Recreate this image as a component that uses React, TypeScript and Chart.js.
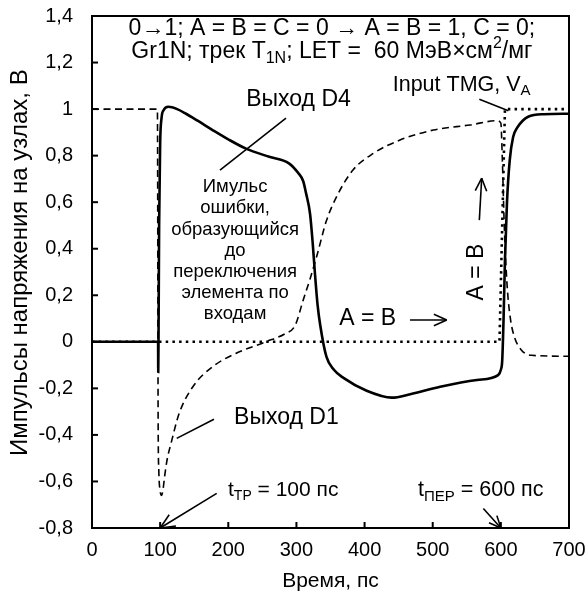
import { useEffect, useRef } from "react";
import { Chart, registerables } from "chart.js";

Chart.register(...registerables);

const FONT = "'Liberation Sans', Arial, sans-serif";

// Output D4 (solid)
const d4Time = [0, 97, 97.2, 97.6, 98.5, 100, 102, 105, 112, 125, 138, 155, 177, 200, 226, 260, 289, 303, 310, 314, 320, 324, 327, 331, 335, 344, 355, 369, 403, 440, 467, 511, 565, 596, 600, 602, 604, 606, 609, 613, 618, 624, 632, 640, 663, 700];
const d4Volt = [0, 0, -0.13, 0, 0.5, 0.85, 0.96, 0.995, 1.01, 1.0, 0.98, 0.95, 0.91, 0.87, 0.83, 0.795, 0.767, 0.724, 0.69, 0.64, 0.55, 0.42, 0.3, 0.16, 0.07, -0.064, -0.12, -0.155, -0.21, -0.24, -0.225, -0.193, -0.164, -0.143, -0.12, -0.08, 0.1, 0.35, 0.6, 0.78, 0.88, 0.92, 0.95, 0.967, 0.978, 0.98];

// Output D1 (dashed)
const d1Time = [0, 96, 96.5, 97, 98, 100, 102, 104, 106.5, 110, 116, 128, 148, 177, 211, 255, 284, 298, 310, 320, 330, 344, 359, 383, 413, 452, 501, 555, 594, 600, 602, 605, 609, 614, 620, 630, 645, 700];
const d1Volt = [1, 1, 0.5, -0.3, -0.55, -0.64, -0.66, -0.64, -0.58, -0.51, -0.436, -0.307, -0.193, -0.107, -0.05, 0, 0.036, 0.07, 0.18, 0.27, 0.37, 0.52, 0.624, 0.738, 0.81, 0.867, 0.91, 0.932, 0.95, 0.94, 0.8, 0.5, 0.25, 0.1, 0.02, -0.035, -0.058, -0.062];

// Input TMG, V_A (dotted)
const inTime = [0, 598, 606, 700];
const inVolt = [0, 0, 1, 1];

const Y_TITLE = "Импульсы напряжения на узлах, В";

const toPoints = (xs: number[], ys: number[]) => xs.map((x, i) => ({ x, y: ys[i] }));

type Run = { t: string; s?: "sub" | "sup" };

function drawRuns(ctx: CanvasRenderingContext2D, runs: Run[], x: number, y: number, size: number, align: "left" | "center" = "left") {
  const small = Math.round(size * 0.68);
  const widths = runs.map((r) => {
    ctx.font = `${r.s ? small : size}px ${FONT}`;
    return ctx.measureText(r.t).width;
  });
  const total = widths.reduce((a, b) => a + b, 0);
  let cx = align === "center" ? x - total / 2 : x;
  ctx.textAlign = "left";
  ctx.textBaseline = "middle";
  runs.forEach((r, i) => {
    ctx.font = `${r.s ? small : size}px ${FONT}`;
    const dy = r.s === "sub" ? size * 0.3 : r.s === "sup" ? -size * 0.33 : 0;
    ctx.fillText(r.t, cx, y + dy);
    cx += widths[i];
  });
}

function seg(ctx: CanvasRenderingContext2D, x1: number, y1: number, x2: number, y2: number) {
  ctx.beginPath();
  ctx.moveTo(x1, y1);
  ctx.lineTo(x2, y2);
  ctx.stroke();
}

function arrow(ctx: CanvasRenderingContext2D, x1: number, y1: number, x2: number, y2: number, head = 13) {
  seg(ctx, x1, y1, x2, y2);
  const a = Math.atan2(y2 - y1, x2 - x1);
  const spread = 0.42;
  seg(ctx, x2, y2, x2 - head * Math.cos(a - spread), y2 - head * Math.sin(a - spread));
  seg(ctx, x2, y2, x2 - head * Math.cos(a + spread), y2 - head * Math.sin(a + spread));
}

const notesPlugin = {
  id: "notes",
  afterDraw(chart: any) {
    const { ctx, chartArea: ca } = chart;
    const xs = chart.scales.x;
    const ys = chart.scales.y;
    const px = (v: number) => xs.getPixelForValue(v);
    const py = (v: number) => ys.getPixelForValue(v);
    ctx.save();
    ctx.strokeStyle = "#000";
    ctx.fillStyle = "#000";
    ctx.lineWidth = 2;
    ctx.setLineDash([]);
    ctx.strokeRect(ca.left, ca.top, ca.right - ca.left, ca.bottom - ca.top);
    // inside tick marks
    ys.ticks.forEach((t: any) => seg(ctx, ca.left, py(t.value), ca.left + 6, py(t.value)));
    xs.ticks.forEach((t: any) => seg(ctx, px(t.value), ca.bottom, px(t.value), ca.bottom - 6));

    // y axis title
    ctx.save();
    ctx.translate(20, py(0.34));
    ctx.rotate(-Math.PI / 2);
    drawRuns(ctx, [{ t: Y_TITLE }], 0, 0, 24, "center");
    ctx.restore();

    // header
    drawRuns(ctx, [{ t: "0→1; A = B = C = 0 → A = B = 1, C = 0;" }], px(352), py(1.345), 23, "center");
    drawRuns(ctx, [{ t: "Gr1N; трек T" }, { t: "1N", s: "sub" }, { t: "; LET =  60 МэВ×см" }, { t: "2", s: "sup" }, { t: "/мг" }], px(352), py(1.248), 23, "center");

    ctx.lineWidth = 1.6;
    // Output D4 label
    drawRuns(ctx, [{ t: "Выход D4" }], px(303), py(1.039), 23, "center");
    seg(ctx, px(284.7), py(0.961), px(187.8), py(0.738));

    // error pulse note
    const lines = ["Имульс", "ошибки,", "образующийся", "до", "переключения", "элемента по", "входам"];
    lines.forEach((l, i) => drawRuns(ctx, [{ t: l }], px(210), py(0.665) + i * 21.2, 18.5, "center"));

    // Output D1 label
    drawRuns(ctx, [{ t: "Выход D1" }], px(285.3), py(-0.327), 23, "center");
    seg(ctx, px(179), py(-0.333), px(124.3), py(-0.415));

    // t_TP
    drawRuns(ctx, [{ t: "t" }, { t: "TP", s: "sub" }, { t: " = 100 пс" }], px(199.6), py(-0.637), 21);
    arrow(ctx, px(183), py(-0.651), px(100), py(-0.8), 16);

    // t_ПЕР
    drawRuns(ctx, [{ t: "t" }, { t: "ПЕР", s: "sub" }, { t: " = 600 пс" }], px(478.4), py(-0.637), 21.5);
    arrow(ctx, px(574.3), py(-0.716), px(600), py(-0.8), 13);

    // Input TMG label
    drawRuns(ctx, [{ t: "Input TMG, V" }, { t: "A", s: "sub" }], px(441.3), py(1.104), 21.5);
    seg(ctx, px(568.4), py(1.042), px(611), py(0.993));

    // A = B horizontal
    drawRuns(ctx, [{ t: "A = B" }], px(362.9), py(0.101), 23);
    arrow(ctx, px(466.7), py(0.094), px(520.5), py(0.094), 14);

    // A = B vertical
    ctx.save();
    ctx.translate(px(564.6), py(0.3));
    ctx.rotate(-Math.PI / 2);
    drawRuns(ctx, [{ t: "A = B" }], 0, 0, 23, "center");
    ctx.restore();
    arrow(ctx, px(568.4), py(0.523), px(571.9), py(0.703), 14);

    ctx.restore();
  },
};

export default function App() {
  const ref = useRef<HTMLCanvasElement>(null);
  useEffect(() => {
    const chart = new Chart(ref.current!, {
      type: "scatter",
      data: {
        datasets: [
          {
            label: "Выход D4",
            data: toPoints(d4Time, d4Volt),
            showLine: true,
            borderColor: "#000",
            borderWidth: 2.6,
            pointRadius: 0,
            cubicInterpolationMode: "monotone",
          },
          {
            label: "Выход D1",
            data: toPoints(d1Time, d1Volt),
            showLine: true,
            borderColor: "#000",
            borderWidth: 1.6,
            borderDash: [7, 4.5],
            pointRadius: 0,
            cubicInterpolationMode: "monotone",
          },
          {
            label: "Input TMG",
            data: toPoints(inTime, inVolt),
            showLine: true,
            borderColor: "#000",
            borderWidth: 2.6,
            borderDash: [2.5, 4.2],
            pointRadius: 0,
            tension: 0,
          },
        ],
      },
      options: {
        animation: false,
        responsive: false,
        devicePixelRatio: 1,
        layout: { padding: { left: 0, top: 16, right: 19, bottom: 0 } },
        plugins: { legend: { display: false }, tooltip: { enabled: false } },
        scales: {
          x: {
            type: "linear",
            min: 0,
            max: 700,
            grid: { display: false, drawTicks: false },
            border: { display: true, color: "#000", width: 2 },
            ticks: { stepSize: 100, color: "#000", padding: 10, font: { family: FONT, size: 20 }, maxRotation: 0 },
            title: { display: true, text: "Время, пс", color: "#000", font: { family: FONT, size: 21 }, padding: { top: 0, bottom: 15 } },
            afterFit: (s: any) => {
              s.height = 81;
              s.paddingLeft = 0;
              s.paddingRight = 0;
            },
          },
          y: {
            type: "linear",
            min: -0.8,
            max: 1.4,
            grid: { display: false, drawTicks: false },
            border: { display: true, color: "#000", width: 2 },
            ticks: {
              stepSize: 0.2,
              color: "#000",
              padding: 19,
              font: { family: FONT, size: 20 },
              callback: (v: any) => String(Math.round(Number(v) * 10) / 10).replace(".", ","),
            },
            afterFit: (s: any) => {
              s.width = 92;
              s.paddingTop = 0;
              s.paddingBottom = 0;
            },
          },
        },
      },
      plugins: [notesPlugin],
    });
    return () => chart.destroy();
  }, []);
  return (
    <div style={{ position: "absolute", left: 0, top: 0, width: 588, height: 609, background: "#fff" }}>
      <canvas ref={ref} width={588} height={609} style={{ display: "block", width: 588, height: 609 }} />
    </div>
  );
}
